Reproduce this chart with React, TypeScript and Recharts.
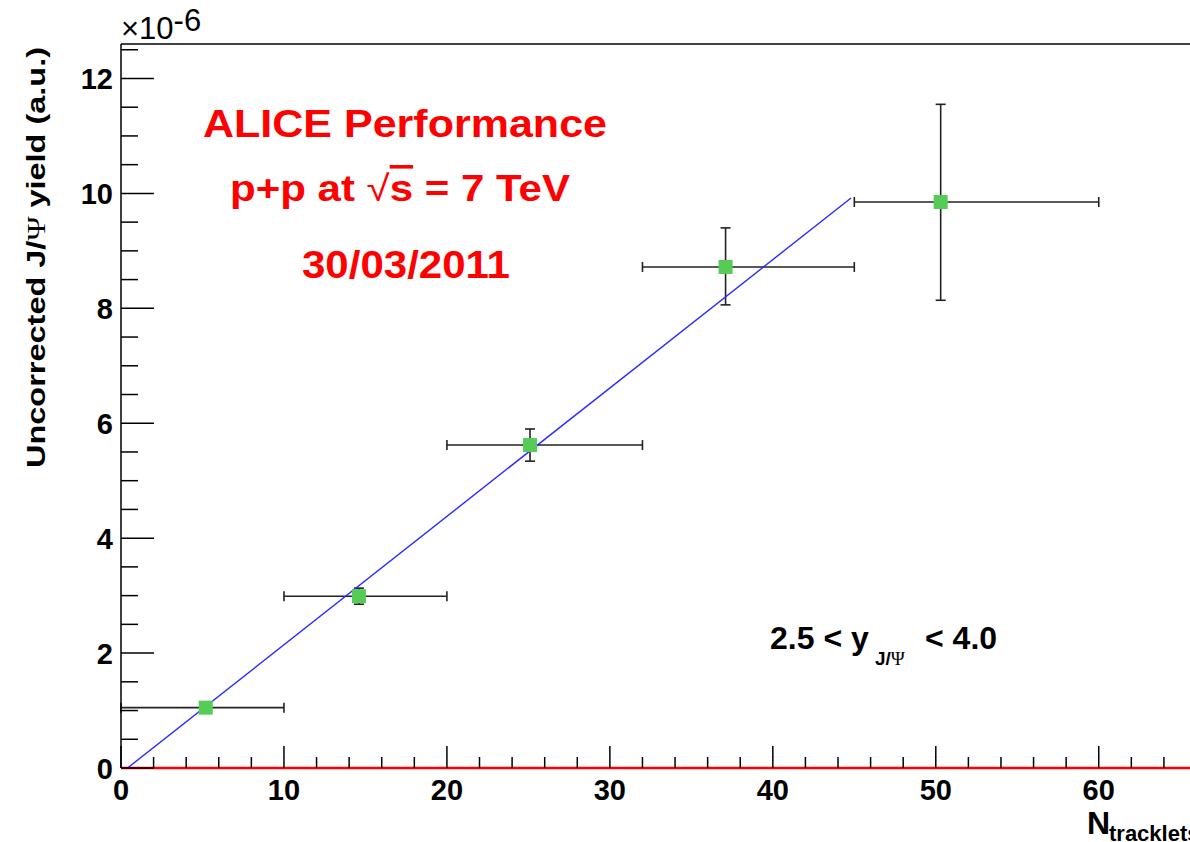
import React from "react";
import { ComposedChart, Scatter, XAxis, YAxis, ErrorBar, ReferenceLine } from "recharts";

// J/psi yield vs tracklet multiplicity (values in units of 1e-6)
const nTracklets = [5.2, 14.6, 25.1, 37.1, 50.3];
const binLow = [0, 10, 20, 32, 45];
const binHigh = [10, 20, 32, 45, 60];
const jpsiYield = [1.05, 2.99, 5.62, 8.72, 9.85];
const yieldErrLow = [0.08, 0.14, 0.28, 0.66, 1.71];
const yieldErrHigh = [0.08, 0.14, 0.28, 0.68, 1.7];

// linear fit, drawn between its two end points
const fitX = [0.4, 44.8];
const fitY = [0, 9.92];

const xTicks = [0, 2, 4, 6, 8, 10, 12, 14, 16, 18, 20, 22, 24, 26, 28, 30, 32, 34, 36, 38, 40, 42, 44, 46, 48, 50, 52, 54, 56, 58, 60, 62, 64];
const yTicks = [0, 0.5, 1, 1.5, 2, 2.5, 3, 3.5, 4, 4.5, 5, 5.5, 6, 6.5, 7, 7.5, 8, 8.5, 9, 9.5, 10, 10.5, 11, 11.5, 12, 12.5];

const X_MAX = 65.6;
const Y_MAX = 12.6;

const FONT = "'Liberation Sans', Arial, Helvetica, sans-serif";
const SERIF = "'Liberation Serif', 'DejaVu Serif', serif";
const RED = "#ff0000";

const points = nTracklets.map((x, i) => ({
  x,
  y: jpsiYield[i],
  xErr: [x - binLow[i], binHigh[i] - x],
  yErr: [yieldErrLow[i], yieldErrHigh[i]],
}));

const fitPoints = fitX.map((x, i) => ({ x, y: fitY[i] }));

const XTick = ({ x, y, payload }: any) => {
  const v = payload.value;
  const major = v % 10 === 0;
  return (
    <g>
      <line x1={x} x2={x} y1={y} y2={y - (major ? 22 : 11)} stroke="#000" strokeWidth={1.5} />
      {major && (
        <text x={x} y={y + 32} textAnchor="middle" fontSize={29} fontWeight="bold" fontFamily={FONT} fill="#000">
          {v}
        </text>
      )}
    </g>
  );
};

const YTick = ({ x, y, payload }: any) => {
  const v = payload.value;
  const major = v % 2 === 0;
  return (
    <g>
      <line x1={x} x2={x + (major ? 33 : 17)} y1={y} y2={y} stroke="#000" strokeWidth={1.5} />
      {major && (
        <text x={x - 8} y={y + 11} textAnchor="end" fontSize={29} fontWeight="bold" fontFamily={FONT} fill="#000">
          {v}
        </text>
      )}
    </g>
  );
};

const Marker = (props: any) => (
  <rect x={props.cx - 7} y={props.cy - 7} width={14} height={14} fill="#55cc55" />
);

export default function App() {
  return (
    <div style={{ position: "absolute", left: 0, top: 0, width: 1190, height: 842, overflow: "hidden", background: "#fff" }}>
      <ComposedChart width={1190} height={842} margin={{ top: 44, right: 0, bottom: 0, left: 0 }}>
        <XAxis
          type="number"
          dataKey="x"
          domain={[0, X_MAX]}
          ticks={xTicks}
          interval={0}
          height={74}
          tickSize={0}
          tickMargin={0}
          tickLine={false}
          axisLine={{ stroke: RED, strokeWidth: 2.5 }}
          tick={<XTick />}
          allowDataOverflow
        />
        <YAxis
          type="number"
          dataKey="y"
          domain={[0, Y_MAX]}
          ticks={yTicks}
          interval={0}
          width={121}
          tickSize={0}
          tickMargin={0}
          tickLine={false}
          axisLine={{ stroke: "#000", strokeWidth: 1.5 }}
          tick={<YTick />}
          allowDataOverflow
        />
        <ReferenceLine y={Y_MAX} stroke="#000" strokeWidth={1.5} />
        <ReferenceLine y={0} stroke={RED} strokeWidth={2} />
        <Scatter
          data={fitPoints}
          line={{ stroke: "#2a2aff", strokeWidth: 1.4 }}
          shape={() => <g />}
          isAnimationActive={false}
        />
        <Scatter data={points} shape={<Marker />} isAnimationActive={false}>
          <ErrorBar dataKey="xErr" direction="x" width={5} stroke="#222" strokeWidth={1.6} />
          <ErrorBar dataKey="yErr" direction="y" width={5} stroke="#222" strokeWidth={1.6} />
        </Scatter>
      </ComposedChart>

      <svg width={1190} height={842} style={{ position: "absolute", left: 0, top: 0, pointerEvents: "none" }}>
        {/* multiplier */}
        <text x={121} y={39} fontSize={31} fontFamily={FONT} fill="#000">
          ×10
          <tspan dy={-8}>-6</tspan>
        </text>

        {/* y title */}
        <text
          transform="translate(45,47) rotate(-90)"
          textAnchor="end"
          fontSize={26}
          fontWeight="bold"
          fontFamily={FONT}
          fill="#000"
          textLength={421}
          lengthAdjust="spacingAndGlyphs"
        >
          Uncorrected J/<tspan fontFamily={SERIF} fontWeight="normal">Ψ</tspan> yield (a.u.)
        </text>

        {/* x title */}
        <text x={1087} y={834} fontSize={32} fontWeight="bold" fontFamily={FONT} fill="#000">N</text>
        <text x={1109} y={841} fontSize={22} fontWeight="bold" fontFamily={FONT} fill="#000">tracklets</text>

        {/* ALICE labels */}
        <text x={203} y={137} fontSize={39} fontWeight="bold" fontFamily={FONT} fill={RED} textLength={404} lengthAdjust="spacingAndGlyphs">
          ALICE Performance
        </text>
        <text x={230} y={201} fontSize={36} fontWeight="bold" fontFamily={FONT} fill={RED} textLength={340} lengthAdjust="spacingAndGlyphs">
          p+p at <tspan fontWeight="normal">√</tspan><tspan style={{ textDecoration: "overline" }}>s</tspan> = 7 TeV
        </text>
        <text x={302} y={278} fontSize={39} fontWeight="bold" fontFamily={FONT} fill={RED} textLength={208} lengthAdjust="spacingAndGlyphs">
          30/03/2011
        </text>

        {/* rapidity range */}
        <text x={770} y={649} fontSize={32} fontWeight="bold" fontFamily={FONT} fill="#000">2.5 &lt; y</text>
        <text x={875} y={665} fontSize={19} fontWeight="bold" fontFamily={FONT} fill="#000">
          J/<tspan fontFamily={SERIF} fontWeight="normal">Ψ</tspan>
        </text>
        <text x={925} y={649} fontSize={32} fontWeight="bold" fontFamily={FONT} fill="#000">&lt; 4.0</text>
      </svg>
    </div>
  );
}
